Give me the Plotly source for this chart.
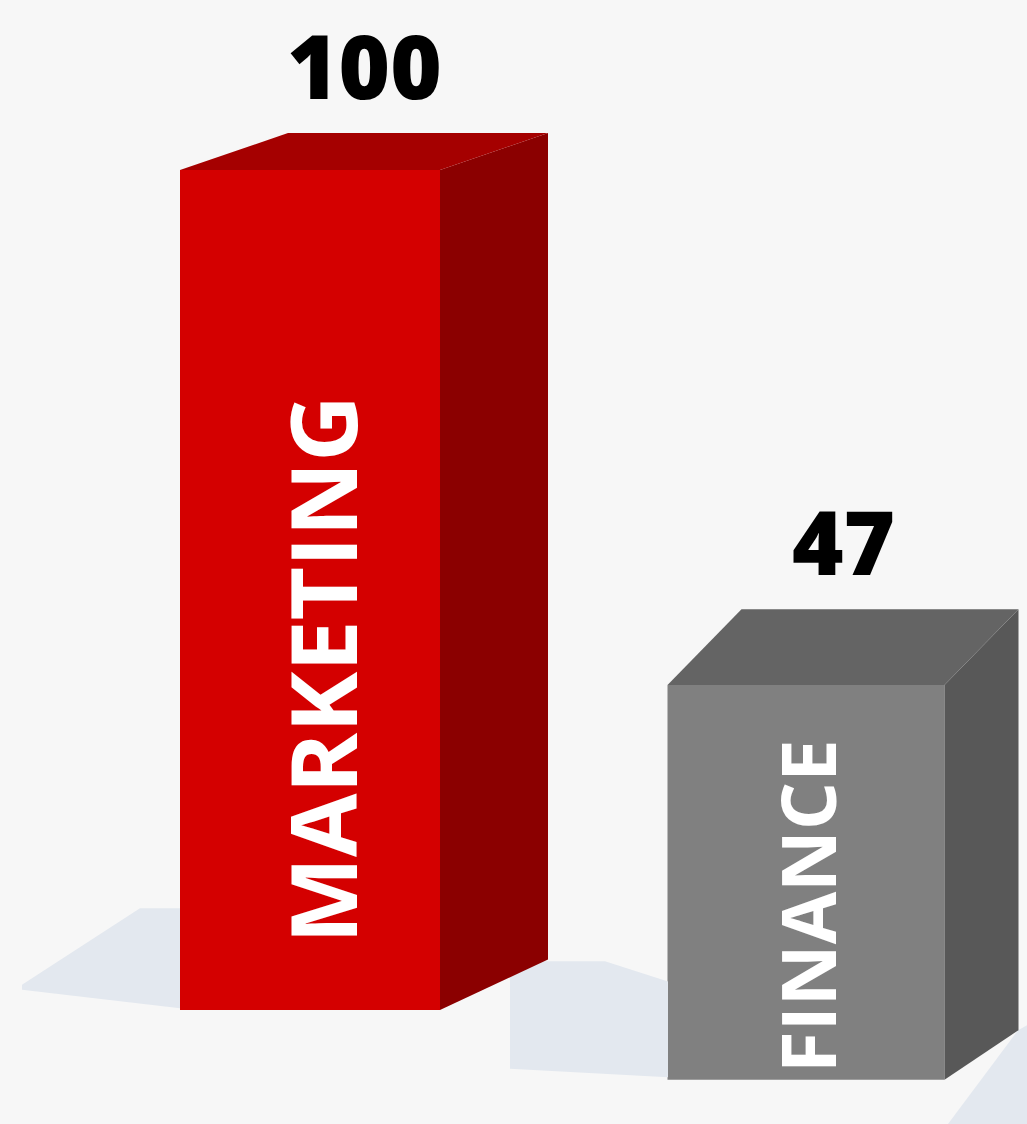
import plotly.graph_objects as go

# ---- data ----
categories = ["MARKETING", "FINANCE"]
values = [100, 47]

# ---- layout / style constants (pseudo-3D geometry) ----
x_center = [310, 806]
bar_width = [260, 277]
bar_base = [0, -8.3]          # perspective offset of each bar's floor
depth_dx = [108, 74]          # horizontal depth of the top/side faces
depth_dv = [4.4, 9.0]         # vertical depth (in value units)
side_bottom_rise = [6.0, 5.9]
front_col = ["#d40000", "#808080"]
side_col = ["#8b0000", "#585858"]
top_col = ["#a50000", "#646464"]
label_shift_x = [12, 0]
label_frac = [0.405, 0.44]

fig = go.Figure()

# floor shadows (decorative)
shadows = [
    ([22, 140, 180, 180, 22], [3.0, 12.1, 12.1, 0.2, 2.4]),
    ([510, 605, 668, 668, 510], [5.8, 5.8, 3.4, -8.0, -7.0]),
    ([1018, 1027, 1027, 948], [-2.4, -1.8, -13.57, -13.57]),
]
for sx, sy in shadows:
    fig.add_trace(go.Scatter(x=sx, y=sy, fill="toself", mode="lines",
                             line=dict(width=0), fillcolor="#e3e8ef",
                             hoverinfo="skip", showlegend=False))

for i, (cat, v) in enumerate(zip(categories, values)):
    b = bar_base[i]
    left = x_center[i] - bar_width[i] / 2
    right = x_center[i] + bar_width[i] / 2
    top = b + v
    dx, dv = depth_dx[i], depth_dv[i]
    # side face
    fig.add_trace(go.Scatter(
        x=[right, right, right + dx, right + dx, right],
        y=[b, top, top + dv, b + side_bottom_rise[i], b],
        fill="toself", mode="lines", line=dict(width=0),
        fillcolor=side_col[i], hoverinfo="skip", showlegend=False))
    # top face
    fig.add_trace(go.Scatter(
        x=[left, right, right + dx, left + dx, left],
        y=[top, top, top + dv, top + dv, top],
        fill="toself", mode="lines", line=dict(width=0),
        fillcolor=top_col[i], hoverinfo="skip", showlegend=False))
    # front face
    fig.add_trace(go.Bar(
        x=[x_center[i]], y=[v], base=[b], width=[bar_width[i]],
        marker=dict(color=front_col[i], line=dict(width=0)),
        hoverinfo="skip", showlegend=False))
    # value label
    fig.add_annotation(
        x=x_center[i] + dx / 2, y=top + dv, text=str(v), showarrow=False,
        yanchor="middle", yshift=68,
        font=dict(family="Open Sans", size=88, color="#000000", weight=800))
    # category label inside bar
    fig.add_annotation(
        x=x_center[i] + label_shift_x[i], y=b + v * label_frac[i], text=cat,
        showarrow=False, textangle=-90, xanchor="center", yanchor="middle",
        font=dict(family="Open Sans", size=92 if i == 0 else 76,
                  color="#ffffff", weight="bold"))

fig.update_layout(
    width=1027, height=1124,
    margin=dict(l=0, r=0, t=0, b=0),
    paper_bgcolor="#f7f7f7", plot_bgcolor="#f7f7f7",
    barmode="overlay",
    xaxis=dict(range=[0, 1027], visible=False, fixedrange=True),
    yaxis=dict(range=[-13.57, 120.24], visible=False, fixedrange=True),
)

fig.write_html("out.html")
